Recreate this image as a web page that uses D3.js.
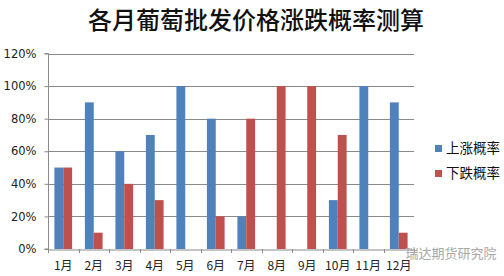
<!DOCTYPE html>
<html><head><meta charset="utf-8">
<script src="https://cdn.jsdelivr.net/npm/d3@7"></script>
<style>body{margin:0;background:#fff}svg{display:block}</style>
</head><body>
<svg id="c" width="504" height="276"></svg>
<script>
const title = "各月葡萄批发价格涨跌概率测算";
const months = ["1月","2月","3月","4月","5月","6月","7月","8月","9月","10月","11月","12月"];
const seriesNames = ["上涨概率","下跌概率"];
const upValues = [0.5,0.9,0.6,0.7,1.0,0.8,0.2,0,0,0.3,1.0,0.9];
const downValues = [0.5,0.1,0.4,0.3,0,0.2,0.8,1.0,1.0,0.7,0,0.1];
const yTicks = [0,0.2,0.4,0.6,0.8,1.0,1.2];
const colors = ["#4F81BD","#C0504D"];
const watermark = "瑞达期货研究院";

const svg = d3.select("#c");
const m = {left:48, right:90, top:53.5, bottom:27};
const W = 504, H = 276;
const x = d3.scaleBand().domain(months).range([m.left, 414]).paddingInner(0).paddingOuter(0);
const y = d3.scaleLinear().domain([0,1.2]).range([249, 53.5]);
const font = "'Noto Sans CJK SC','DejaVu Sans',sans-serif";

svg.append("text").attr("x",256).attr("y",29).attr("text-anchor","middle")
  .attr("font-family",font).attr("font-size",24).attr("font-weight",500).attr("fill","#111").text(title);

// gridlines
svg.append("g").selectAll("line").data(yTicks.slice(1)).join("line")
  .attr("x1",m.left).attr("x2",414).attr("y1",d=>Math.round(y(d))+0.5).attr("y2",d=>Math.round(y(d))+0.5)
  .attr("stroke","#8a8a8a").attr("stroke-width",1);

// y axis
const yAxis = svg.append("g").attr("transform",`translate(${m.left+0.5},0)`)
  .call(d3.axisLeft(y).tickValues(yTicks).tickFormat(d3.format(".0%")).tickSize(4).tickPadding(8));
yAxis.selectAll("text").attr("font-family","'DejaVu Sans',sans-serif").attr("font-size",11.5).attr("fill","#222");
yAxis.selectAll("line,path").attr("stroke","#8a8a8a");
yAxis.select("path").attr("d",`M-4,${y(1.2)}H0V${y(0)}H-4`);

// x axis
const xAxis = svg.append("g").attr("transform",`translate(0,${Math.round(y(0))+0.5})`)
  .call(d3.axisBottom(x).tickSize(0).tickPadding(12));
xAxis.select("path").attr("stroke","#8a8a8a");
xAxis.selectAll("text").attr("font-family",font).attr("font-size",12).attr("fill","#222");
// tick separators
svg.append("g").selectAll("line").data(months.concat(["end"])).join("line")
  .attr("x1",(d,i)=> i<months.length ? Math.round(x(d))+0.5 : 414.5)
  .attr("x2",(d,i)=> i<months.length ? Math.round(x(d))+0.5 : 414.5)
  .attr("y1",y(0)).attr("y2",y(0)+4).attr("stroke","#8a8a8a");

// bars
const bw = x.bandwidth()*0.29;
const data = [upValues, downValues];
data.forEach((vals,si)=>{
  svg.append("g").selectAll("rect").data(vals).join("rect")
    .attr("x",(d,i)=> x(months[i]) + x.bandwidth()/2 - bw + si*bw)
    .attr("width",bw)
    .attr("y",d=>y(d)).attr("height",d=>y(0)-y(d))
    .attr("fill",colors[si]);
});

// legend
const lg = svg.append("g");
seriesNames.forEach((n,i)=>{
  const ly = 148 + i*25;
  lg.append("rect").attr("x",435).attr("y",ly-3).attr("width",7).attr("height",7).attr("fill",colors[i]);
  lg.append("text").attr("x",446).attr("y",ly+5).attr("font-family",font).attr("font-size",13.5)
    .attr("fill","#111").text(n);
});

// watermark
svg.append("text").attr("x",451).attr("y",258).attr("text-anchor","middle")
  .attr("font-family",font).attr("font-size",13).attr("fill","#a8a8a8").text(watermark);
</script>
</body></html>
